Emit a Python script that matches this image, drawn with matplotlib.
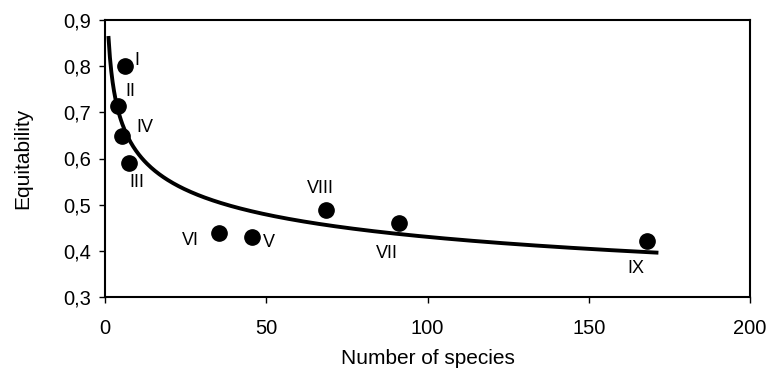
import numpy as np
import matplotlib.pyplot as plt
from matplotlib.ticker import FuncFormatter

plt.rcParams['font.family'] = ['Liberation Sans', 'DejaVu Sans']

# dane
liczba_gatunkow = [6.2, 4.1, 5.2, 7.5, 35.3, 45.5, 68.4, 91.3, 168]
rownomiernosc = [0.80, 0.714, 0.649, 0.59, 0.439, 0.431, 0.488, 0.46, 0.421]
etykiety = ["I", "II", "IV", "III", "VI", "V", "VIII", "VII", "IX"]

# przesunięcia etykiet (piksele)
przesuniecia = [(12, 6), (12, 14), (23, 8), (8, -19), (-28, -8),
                (17, -6), (-5, 22), (-13, -30), (-11, -27)]

# linia trendu potęgowego (jak w Excelu)
b, log_a = np.polyfit(np.log(liczba_gatunkow), np.log(rownomiernosc), 1)
xs = np.linspace(1.1, 171, 400)
ys = np.exp(log_a) * xs ** b

fig = plt.figure(figsize=(7.68, 3.74), dpi=100)
ax = fig.add_axes([105 / 768, 1 - 297 / 374, 645 / 768, 277 / 374])

ax.plot(xs, ys, color="black", linewidth=2.8, zorder=2)
ax.plot(liczba_gatunkow, rownomiernosc, "o", color="black", markersize=11, zorder=3)

for x, y, t, (dx, dy) in zip(liczba_gatunkow, rownomiernosc, etykiety, przesuniecia):
    ax.annotate(t, (x, y), xytext=(dx, dy), textcoords="offset pixels",
                ha="center", va="center", fontsize=13)

ax.set_xlim(0, 200)
ax.set_ylim(0.3, 0.9)
ax.set_xticks([0, 50, 100, 150, 200])
ax.set_yticks([0.3, 0.4, 0.5, 0.6, 0.7, 0.8, 0.9])
ax.yaxis.set_major_formatter(FuncFormatter(lambda v, p: f"{v:.1f}".replace(".", ",")))
ax.tick_params(direction="out", length=4, width=1, labelsize=14.5)
ax.tick_params(axis="x", pad=12)
ax.tick_params(axis="y", pad=6)

for s in ax.spines.values():
    s.set_linewidth(1.5)

ax.set_xlabel("Number of species", fontsize=15, labelpad=8)
ax.set_ylabel("Equitability", fontsize=15, labelpad=22)

fig.savefig("out.png", dpi=100)
